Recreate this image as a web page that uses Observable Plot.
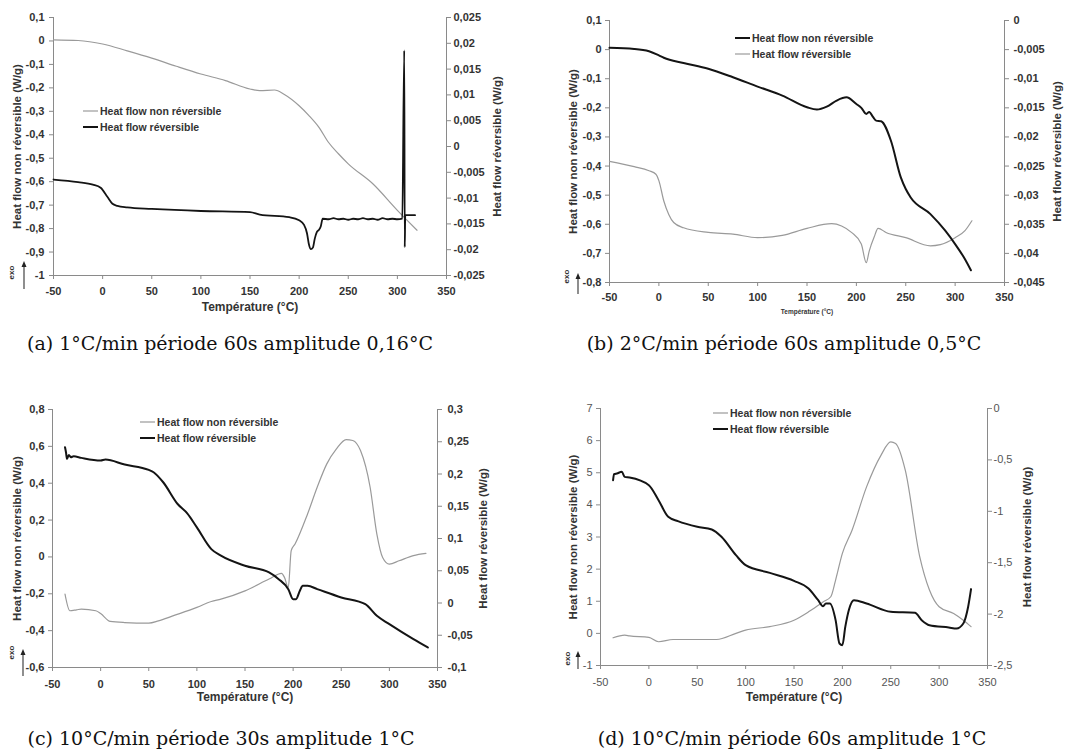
<!DOCTYPE html>
<html>
<head>
<meta charset="utf-8">
<script src="https://cdn.jsdelivr.net/npm/d3@7"></script>
<script src="https://cdn.jsdelivr.net/npm/@observablehq/plot@0.6"></script>
<style>
  html, body { margin: 0; padding: 0; background: #fff; }
  #page { position: relative; width: 1070px; height: 753px; overflow: hidden; background: #fff; }
  .panel { position: absolute; }
  .panel.boldticks svg text { font-weight: bold; }
  .caption { position: absolute; font-family: "DejaVu Serif", "Liberation Serif", serif; font-size: 19px; color: #111; text-align: center; white-space: nowrap; transform: translate(-50%, -50%); }
  .legend { position: absolute; font-family: "Liberation Sans", Arial, sans-serif; font-weight: bold; font-size: 10.5px; color: #333; }
  .legend .row { position: absolute; left: 0; white-space: nowrap; display: flex; align-items: center; transform: translateY(-50%); }
  .legend svg { display: block; margin-right: 2px; }
  .exoarrow { position: absolute; }
</style>
</head>
<body>
<div id="page"></div>
<script>
// ---------------- DATA ----------------
const xTicks = [-50, 0, 50, 100, 150, 200, 250, 300, 350];
const seriesNames = ["Heat flow non réversible", "Heat flow réversible"];
const leftTitle = "Heat flow non réversible (W/g)";
const rightTitle = "Heat flow réversible (W/g)";
const xTitle = "Température (°C)";
const captions = [
  "(a) 1°C/min période 60s amplitude 0,16°C",
  "(b) 2°C/min période 60s amplitude 0,5°C",
  "(c) 10°C/min période 30s amplitude 1°C",
  "(d) 10°C/min période 60s amplitude 1°C"
];

// (a)
const a_leftTicks = [-1, -0.9, -0.8, -0.7, -0.6, -0.5, -0.4, -0.3, -0.2, -0.1, 0, 0.1];
const a_rightTicks = [-0.025, -0.02, -0.015, -0.01, -0.005, 0, 0.005, 0.01, 0.015, 0.02, 0.025];
const a_nonrev_T = [-50,-25,0,25,50,75,100,125,150,160,175,185,200,210,220,230,240,250,275,300,310,320];
const a_nonrev_W = [0.005,0.002,-0.013,-0.042,-0.073,-0.108,-0.141,-0.169,-0.205,-0.212,-0.209,-0.228,-0.276,-0.318,-0.367,-0.433,-0.481,-0.524,-0.609,-0.722,-0.765,-0.807];
const a_rev_T = [-50,-25,-10,-2,5,10,15,25,50,100,150,160,190,200,205,208,210,212,214,216,218,220,222,224,230,235,240,245,250,255,260,265,270,275,280,285,290,295,300,305,307,307.5,308,310,318];
const a_rev_W = [-0.0064,-0.0069,-0.0074,-0.0080,-0.0098,-0.0111,-0.0115,-0.0118,-0.0121,-0.0125,-0.0127,-0.0132,-0.0137,-0.0143,-0.0152,-0.0168,-0.0190,-0.0199,-0.0196,-0.0178,-0.0166,-0.0162,-0.0155,-0.0140,-0.0141,-0.0139,-0.0141,-0.0140,-0.0142,-0.0140,-0.0141,-0.0139,-0.0141,-0.0140,-0.0142,-0.0139,-0.0141,-0.0140,-0.0141,-0.0140,0.0186,-0.0195,-0.0133,-0.0133,-0.0133];

// (b)
const b_leftTicks = [-0.8, -0.7, -0.6, -0.5, -0.4, -0.3, -0.2, -0.1, 0, 0.1];
const b_rightTicks = [-0.045, -0.04, -0.035, -0.03, -0.025, -0.02, -0.015, -0.01, -0.005, 0];
const b_nonrev_T = [-50,-25,-10,0,5,25,50,75,100,125,150,160,170,180,190,200,205,210,213,217,220,225,235,245,250,255,275,290,300,310,316];
const b_nonrev_W = [0.006,0.0025,-0.0055,-0.020,-0.028,-0.046,-0.066,-0.095,-0.127,-0.158,-0.198,-0.206,-0.196,-0.175,-0.164,-0.187,-0.200,-0.221,-0.214,-0.232,-0.244,-0.246,-0.313,-0.439,-0.479,-0.508,-0.565,-0.622,-0.668,-0.72,-0.758];
const b_rev_T = [-50,-25,-10,-3,0,5,10,15,25,50,75,100,125,150,175,185,195,205,210,213,218,222,230,250,275,285,300,310,317];
const b_rev_W = [-0.0242,-0.0251,-0.0258,-0.0264,-0.0275,-0.0310,-0.0333,-0.0347,-0.0356,-0.0364,-0.0367,-0.0373,-0.0369,-0.0357,-0.0349,-0.0353,-0.0364,-0.0384,-0.0416,-0.0396,-0.0372,-0.0357,-0.0364,-0.0373,-0.0387,-0.0385,-0.0373,-0.0361,-0.0344];

// (c)
const c_leftTicks = [-0.6, -0.4, -0.2, 0, 0.2, 0.4, 0.6, 0.8];
const c_rightTicks = [-0.1, -0.05, 0, 0.05, 0.1, 0.15, 0.2, 0.25, 0.3];
const c_nonrev_T = [-37,-32,-25,-20,-5,0,10,25,50,60,75,100,115,125,150,175,188,191,195,198,202,215,225,235,245,255,262,270,280,287,293,300,310,325,338];
const c_nonrev_W = [-0.202,-0.292,-0.287,-0.283,-0.292,-0.307,-0.350,-0.356,-0.359,-0.347,-0.320,-0.274,-0.242,-0.229,-0.184,-0.120,-0.089,-0.111,-0.166,0.034,0.070,0.233,0.378,0.505,0.586,0.637,0.632,0.577,0.378,0.124,-0.003,-0.039,-0.021,0.007,0.019];
const c_rev_T = [-37,-36,-35,-33,-31,-28,-20,0,5,25,50,55,65,80,90,100,115,125,150,175,185,195,200,203,207,210,215,225,250,275,287,300,325,340];
const c_rev_W = [0.2415,0.2337,0.2234,0.2296,0.226,0.2275,0.225,0.2208,0.2224,0.2146,0.2063,0.2027,0.1872,0.1535,0.139,0.1173,0.0836,0.0733,0.0578,0.0474,0.037,0.0215,0.006,0.006,0.019,0.0267,0.0267,0.0215,0.0086,-0.0018,-0.0199,-0.0328,-0.0561,-0.069];

// (d)
const d_leftTicks = [-1, 0, 1, 2, 3, 4, 5, 6, 7];
const d_rightTicks = [-2.5, -2, -1.5, -1, -0.5, 0];
const d_nonrev_T = [-37,-25,-20,0,10,25,50,70,90,100,125,150,165,180,188,193,200,210,225,240,250,255,265,280,290,300,315,325,333];
const d_nonrev_W = [-0.137,-0.054,-0.08,-0.127,-0.26,-0.19,-0.19,-0.19,0.0,0.1,0.21,0.41,0.67,0.98,1.14,1.66,2.49,3.21,4.56,5.55,5.96,5.91,5.08,2.38,1.35,0.83,0.62,0.41,0.21];
const d_rev_T = [-37,-36,-33,-28,-25,-20,0,10,20,30,50,65,75,90,100,125,150,165,175,180,183,187,193,197,200,203,207,212,225,250,275,282,290,310,318,325,330,333];
const d_rev_W = [-0.697,-0.639,-0.632,-0.616,-0.665,-0.671,-0.746,-0.892,-1.054,-1.096,-1.151,-1.177,-1.248,-1.427,-1.524,-1.599,-1.676,-1.751,-1.865,-1.923,-1.897,-1.897,-2.059,-2.286,-2.302,-2.124,-1.95,-1.865,-1.897,-1.978,-1.988,-2.059,-2.108,-2.130,-2.140,-2.091,-1.929,-1.757];

// ---------------- DRAWING ----------------
const fmt = v => String(+(+v).toFixed(4)).replace(".", ",");
const GREY = "#9a9a9a", BLACK = "#141414", AXIS = "#8a8a8a";

const panels = [
  { left: 0, top: 0, width: 535, height: 325, ml: 53, mr: 89, mt: 17, mb: 50,
    yDomain: [-1, 0.1], rDomain: [-0.025, 0.025], yTicks: a_leftTicks, rTicks: a_rightTicks,
    series: [
      {T: a_nonrev_T, W: a_nonrev_W, axis: "left", color: GREY, sw: 1.2},
      {T: a_rev_T, W: a_rev_W, axis: "right", color: BLACK, sw: 1.8}],
    legendColors: [[GREY, 1.2], [BLACK, 2]],
    xPad: 8, lPad: 5, rPad: 3, xTitleDy: 35, xTitleSize: 12, lTitleDx: -36, rTitleDx: 51,
    bold: true, tickColor: "#333",
    exo: [-39.5, -3], arrow: [24, 289, 261],
    legend: [83, 111, 16], caption: [230, 343] },
  { left: 535, top: 0, width: 535, height: 325, ml: 74, mr: 66, mt: 20, mb: 43,
    yDomain: [-0.8, 0.1], rDomain: [-0.045, 0], yTicks: b_leftTicks, rTicks: b_rightTicks,
    series: [
      {T: b_rev_T, W: b_rev_W, axis: "right", color: GREY, sw: 1.2},
      {T: b_nonrev_T, W: b_nonrev_W, axis: "left", color: BLACK, sw: 2}],
    legendColors: [[BLACK, 2], [GREY, 1.2]],
    xPad: 7, lPad: 4, rPad: 5, xTitleDy: 31, xTitleSize: 6.5, lTitleDx: -36, rTitleDx: 53,
    bold: true, tickColor: "#333",
    exo: [-41, -6], arrow: [578, 294, 273],
    legend: [735, 38, 16], caption: [784, 343] },
  { left: 0, top: 380, width: 535, height: 335, ml: 52, mr: 98, mt: 29, mb: 48,
    yDomain: [-0.6, 0.8], rDomain: [-0.1, 0.3], yTicks: c_leftTicks, rTicks: c_rightTicks,
    series: [
      {T: c_nonrev_T, W: c_nonrev_W, axis: "left", color: GREY, sw: 1.2},
      {T: c_rev_T, W: c_rev_W, axis: "right", color: BLACK, sw: 2}],
    legendColors: [[GREY, 1.2], [BLACK, 2]],
    xPad: 9, lPad: 4, rPad: 6, xTitleDy: 33, xTitleSize: 12, lTitleDx: -35, rTitleDx: 46,
    bold: true, tickColor: "#333",
    exo: [-39, -15], arrow: [23, 676, 649],
    legend: [140, 422, 16], caption: [221, 738] },
  { left: 535, top: 380, width: 535, height: 335, ml: 65, mr: 83, mt: 28, mb: 50,
    yDomain: [-1, 7], rDomain: [-2.5, 0], yTicks: d_leftTicks, rTicks: d_rightTicks,
    series: [
      {T: d_nonrev_T, W: d_nonrev_W, axis: "left", color: GREY, sw: 1.2},
      {T: d_rev_T, W: d_rev_W, axis: "right", color: BLACK, sw: 2}],
    legendColors: [[GREY, 1.2], [BLACK, 2]],
    xPad: 9, lPad: 4, rPad: 2, xTitleDy: 35, xTitleSize: 12, lTitleDx: -27, rTitleDx: 40,
    bold: false, tickColor: "#555",
    exo: [-31, -7], arrow: [578, 669, 651],
    legend: [713, 413, 16], caption: [792, 738] }
];

const page = document.getElementById("page");

panels.forEach((p, k) => {
  const [L0, L1] = p.yDomain, [R0, R1] = p.rDomain;
  const toL = r => L0 + (r - R0) * (L1 - L0) / (R1 - R0);
  const fromL = l => R0 + (l - L0) * (R1 - R0) / (L1 - L0);
  const lineData = s => s.T.map((t, i) => ({t, w: s.axis === "right" ? toL(s.W[i]) : s.W[i]}));
  const tickOpts = {fill: p.tickColor, fontSize: 11, stroke: AXIS};

  const chart = Plot.plot({
    width: p.width, height: p.height,
    marginLeft: p.ml, marginRight: p.mr, marginTop: p.mt, marginBottom: p.mb,
    style: {fontFamily: '"Liberation Sans", Arial, sans-serif', fontSize: "11px", color: "#333", background: "transparent", overflow: "visible"},
    x: {domain: [-50, 350]},
    y: {domain: p.yDomain},
    marks: [
      Plot.axisX({ticks: xTicks, tickFormat: fmt, tickSize: 4, tickPadding: p.xPad, label: null, ...tickOpts}),
      Plot.axisY({anchor: "left", ticks: p.yTicks, tickFormat: fmt, tickSize: 4, tickPadding: p.lPad, label: null, ...tickOpts}),
      Plot.axisY({anchor: "right", ticks: p.rTicks.map(toL), tickFormat: d => fmt(fromL(d)), tickSize: 4, tickPadding: p.rPad, label: null, ...tickOpts}),
      Plot.ruleY([L0], {stroke: AXIS}),
      Plot.ruleX([-50], {stroke: AXIS}),
      Plot.ruleX([350], {stroke: AXIS}),
      ...p.series.map(s => Plot.line(lineData(s), {x: "t", y: "w", stroke: s.color, strokeWidth: s.sw, curve: "monotone-x"})),
      Plot.text([xTitle], {text: d => d, frameAnchor: "bottom", dy: p.xTitleDy, textAnchor: "middle", fontWeight: "bold", fontSize: p.xTitleSize, fill: "#333"}),
      Plot.text([leftTitle], {text: d => d, frameAnchor: "left", dx: p.lTitleDx, rotate: -90, textAnchor: "middle", fontWeight: "bold", fontSize: 11.5, fill: "#333"}),
      Plot.text([rightTitle], {text: d => d, frameAnchor: "right", dx: p.rTitleDx, rotate: -90, textAnchor: "middle", fontWeight: "bold", fontSize: 11.5, fill: "#333"}),
      Plot.text(["exo"], {text: d => d, frameAnchor: "bottom-left", dx: p.exo[0], dy: p.exo[1], rotate: -90, textAnchor: "middle", fontWeight: "bold", fontSize: 8, fill: "#333"})
    ]
  });
  const holder = document.createElement("div");
  holder.className = "panel" + (p.bold ? " boldticks" : "");
  holder.style.left = p.left + "px";
  holder.style.top = p.top + "px";
  holder.appendChild(chart);
  page.appendChild(holder);

  // "exo" arrow decoration
  const [ax, ay1, ay0] = p.arrow;
  const arr = document.createElement("div");
  arr.className = "exoarrow";
  arr.style.left = (ax - 4) + "px";
  arr.style.top = ay0 + "px";
  arr.innerHTML = `<svg width="8" height="${ay1 - ay0}" style="display:block"><line x1="4" x2="4" y1="4" y2="${ay1 - ay0}" stroke="#444" stroke-width="1.2"/><path d="M1.5,6 L4,0 L6.5,6 Z" fill="#222"/></svg>`;
  page.appendChild(arr);

  // legend
  const leg = document.createElement("div");
  leg.className = "legend";
  leg.style.left = p.legend[0] + "px";
  leg.style.top = p.legend[1] + "px";
  [0, 1].forEach(i => {
    const row = document.createElement("div");
    row.className = "row";
    row.style.top = (i * p.legend[2]) + "px";
    const [col, w] = p.legendColors[i];
    row.innerHTML = `<svg width="15" height="6"><line x1="0" x2="15" y1="3" y2="3" stroke="${col}" stroke-width="${w}"/></svg><span>${seriesNames[i]}</span>`;
    leg.appendChild(row);
  });
  page.appendChild(leg);

  const cap = document.createElement("div");
  cap.className = "caption";
  cap.style.left = p.caption[0] + "px";
  cap.style.top = p.caption[1] + "px";
  cap.textContent = captions[k];
  page.appendChild(cap);
});
</script>
</body>
</html>
